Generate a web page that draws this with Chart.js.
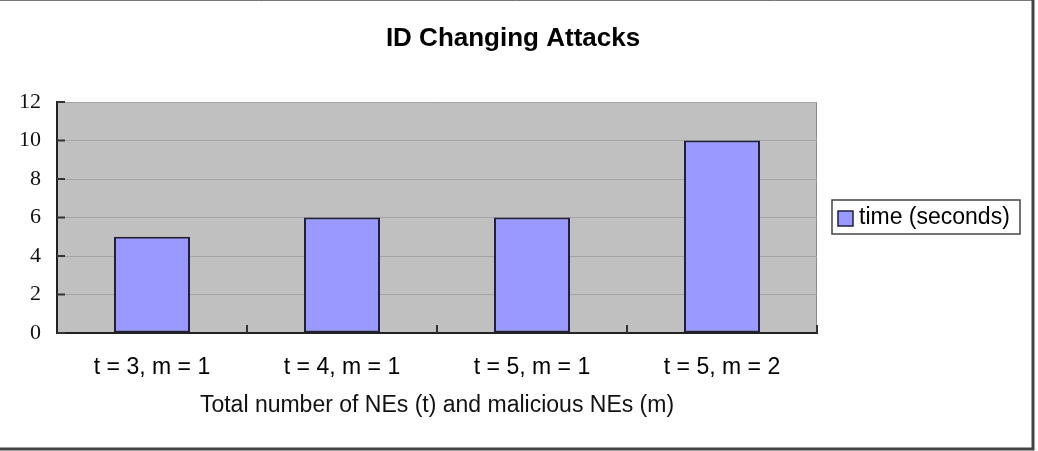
<!DOCTYPE html>
<html>
<head>
<meta charset="utf-8">
<script src="https://cdn.jsdelivr.net/npm/chart.js@4.4.1/dist/chart.umd.min.js"></script>
<style>
    body { margin: 0; background: #fff; }
    #wrap { width: 1038px; height: 451px; position: relative; }
</style>
</head>
<body>
<div id="wrap"><canvas id="attackChart"></canvas></div>
<script>
// Chart data
const TITLE = 'ID Changing Attacks';
const categories = ['t = 3, m = 1', 't = 4, m = 1', 't = 5, m = 1', 't = 5, m = 2'];
const timeSeconds = [5, 6, 6, 10];
const seriesLabel = 'time (seconds)';
const xAxisTitle = 'Total number of NEs (t) and malicious NEs (m)';
const yMin = 0;
const yMax = 12;
const yStep = 2;

const SANS = '"Liberation Sans", Arial, sans-serif';
const SERIF = '"Liberation Serif", "Times New Roman", serif';

// Excel-ish decorations: grey plot area, inside ticks, framed legend, outer border
const excelLook = {
    id: 'excelLook',
    beforeDraw(chart) {
        const { ctx, chartArea: a } = chart;
        ctx.save();
        ctx.fillStyle = '#c0c0c0';
        ctx.fillRect(a.left, a.top, a.right - a.left, a.bottom - a.top);
        ctx.strokeStyle = '#8a8a8a';
        ctx.lineWidth = 1;
        ctx.strokeRect(a.left + 0.5, a.top + 0.5, a.right - a.left - 1, a.bottom - a.top);
        ctx.restore();
    },
    afterDraw(chart) {
        const { ctx, chartArea: a, scales } = chart;
        ctx.save();

        // inside tick marks
        ctx.strokeStyle = '#333';
        ctx.lineWidth = 2;
        scales.y.ticks.forEach(t => {
            const y = scales.y.getPixelForValue(t.value);
            ctx.beginPath();
            ctx.moveTo(a.left, y);
            ctx.lineTo(a.left + 8, y);
            ctx.stroke();
        });
        const half = (scales.x.getPixelForValue(1) - scales.x.getPixelForValue(0)) / 2;
        for (let i = 0; i < categories.length; i++) {
            const x = scales.x.getPixelForValue(i) + half;
            ctx.beginPath();
            ctx.moveTo(x, a.bottom);
            ctx.lineTo(x, a.bottom - 8);
            ctx.stroke();
        }

        // title
        ctx.fillStyle = '#000';
        ctx.font = 'bold 26px ' + SANS;
        ctx.textAlign = 'center';
        ctx.textBaseline = 'middle';
        ctx.fillText(TITLE, 513, 39);

        // legend
        const ds = chart.data.datasets[0];
        ctx.fillStyle = '#fff';
        ctx.fillRect(832, 200, 188, 34);
        ctx.strokeStyle = '#444';
        ctx.lineWidth = 1.5;
        ctx.strokeRect(832, 200, 188, 34);
        ctx.fillStyle = ds.backgroundColor;
        ctx.fillRect(838, 211, 15, 15);
        ctx.strokeStyle = ds.borderColor;
        ctx.strokeRect(838, 211, 15, 15);
        ctx.fillStyle = '#000';
        ctx.font = '23px ' + SANS;
        ctx.textAlign = 'left';
        ctx.fillText(ds.label, 859, 218);

        // outer frame
        ctx.strokeStyle = '#777';
        ctx.lineWidth = 1;
        ctx.beginPath();
        ctx.moveTo(0, 0.5);
        ctx.lineTo(1033, 0.5);
        ctx.stroke();
        ctx.strokeStyle = '#444';
        ctx.lineWidth = 3;
        ctx.beginPath();
        ctx.moveTo(1033, 0);
        ctx.lineTo(1033, 449);
        ctx.lineTo(0, 449);
        ctx.stroke();

        ctx.restore();
    }
};

const ctx = document.getElementById('attackChart').getContext('2d');
new Chart(ctx, {
    type: 'bar',
    data: {
        labels: categories,
        datasets: [{
            label: seriesLabel,
            data: timeSeconds,
            backgroundColor: '#9999ff',
            borderColor: '#20203a',
            borderWidth: 2,
            borderSkipped: false,
            barPercentage: 0.4,
            categoryPercentage: 1.0
        }]
    },
    options: {
        responsive: true,
        maintainAspectRatio: false,
        animation: false,
        layout: { padding: { left: 0, right: 221, top: 102, bottom: 0 } },
        plugins: {
            legend: { display: false },
            title: { display: false },
            tooltip: { enabled: false }
        },
        scales: {
            x: {
                afterFit: s => { s.height = 118; },
                grid: { drawOnChartArea: false, drawTicks: false },
                border: { color: '#222', width: 2 },
                ticks: { color: '#000', font: { family: SANS, size: 23 }, padding: 21 },
                title: {
                    display: true,
                    text: xAxisTitle,
                    color: '#111',
                    font: { family: SANS, size: 23 },
                    padding: { top: 0, bottom: 32 }
                }
            },
            y: {
                min: yMin,
                max: yMax,
                afterFit: s => { s.width = 57; },
                grid: { color: '#a4a4a4', lineWidth: 1, drawTicks: false },
                border: { color: '#222', width: 2 },
                ticks: { stepSize: yStep, color: '#111', font: { family: SERIF, size: 22 }, padding: 16 }
            }
        }
    },
    plugins: [excelLook]
});
</script>
</body>
</html>
